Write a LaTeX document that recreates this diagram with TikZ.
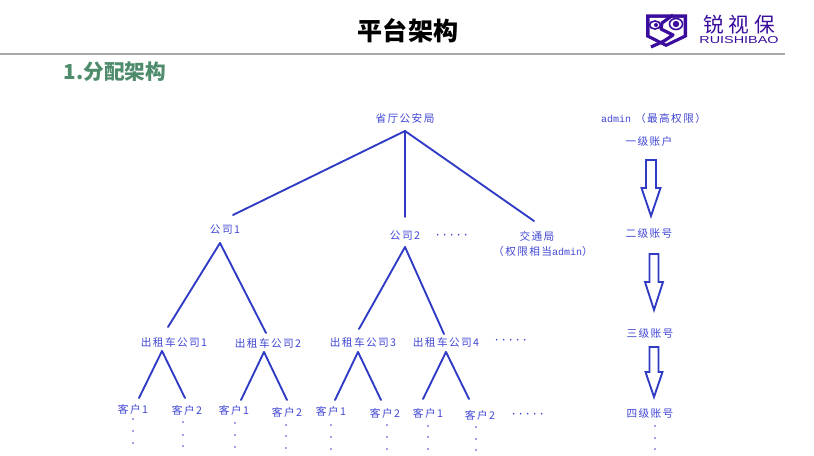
\documentclass[tikz,border=0pt]{standalone}
\usepackage{fontspec}
\setmainfont{Noto Sans CJK SC}
\newfontfamily\lbl[LetterSpace=13]{Noto Sans CJK SC}
\newfontfamily\lat{Liberation Mono}
\newfontfamily\dotfont[LetterSpace=37]{Liberation Sans}
\newfontfamily\logofont[LetterSpace=24]{Noto Sans CJK SC}
\newfontfamily\latinlogo{Liberation Sans}
\definecolor{inkblue}{HTML}{2F3BC4}
\definecolor{lblblue}{HTML}{4248D4}
\definecolor{logopurple}{HTML}{3A0D9C}
\definecolor{subgreen}{HTML}{4F8C6C}
\definecolor{rulegray}{HTML}{A8A8A8}
\tikzset{
  lab/.style={text=lblblue,inner sep=0pt,font=\lbl\fontsize{8pt}{9pt}\selectfont},
  dotlab/.style={text=lblblue,inner sep=0pt,font=\dotfont\bfseries\fontsize{7.5pt}{9pt}\selectfont},
  link/.style={draw=inkblue,line width=1.4pt,line cap=round},
  hollow/.style={draw=inkblue,line width=1.4pt,fill=white,line join=miter},
  pt/.style={fill=lblblue,circle,inner sep=0pt,minimum size=1.4pt},
}
% hollow arrow: x of centre, top y, shoulder y, tip y, half shaft, half head
\newcommand{\holarrow}[6]{\draw[hollow] (#1-#5,#2)--(#1+#5,#2)--(#1+#5,#3)--(#1+#6,#3)--(#1,#4)--(#1-#6,#3)--(#1-#5,#3)--cycle;}
\newcommand{\dotcol}[4]{\node[pt] at (#1,#2) {};\node[pt] at (#1,#3) {};\node[pt] at (#1,#4) {};}
\newcommand{\ltn}[1]{{\lat\fontsize{7.5pt}{9pt}\selectfont #1}}
\begin{document}
\begin{tikzpicture}[x=0.75pt,y=-0.75pt]
\useasboundingbox (0,0) rectangle (814,456);
\fill[white] (0,0) rectangle (814,456);
% header
\node[inner sep=0pt,font=\fontsize{18.8pt}{22pt}\selectfont\bfseries] (title) at (408,31) {平台架构};
\draw[rulegray,line width=1.2pt] (0,54) -- (785,54);
\node[inner sep=0pt,text=subgreen,font=\fontsize{15.5pt}{18pt}\selectfont\bfseries] (sub) at (115,72) {1.分配架构};
% logo
\fill[logopurple] (646,14.5)--(687,14.5)--(687,37)--(666,47)--(646,37)--cycle;
\fill[white] (649.5,18)--(683.5,18)--(683.5,35)--(666,43.5)--(649.5,35)--cycle;
\draw[logopurple,line width=2.4pt,line join=round] (673,15)--(662,23)--(661,29)--(673,35)--(664,41)--(651,47);
\fill[white,draw=logopurple,line width=1.2pt] (655,25) ellipse (5.5 and 4);
\fill[logopurple] (656,25) circle (2);
\fill[white,draw=logopurple,line width=1.2pt] (676,24) ellipse (6.5 and 5.5);
\fill[logopurple] (676,24) circle (3.2);
\node[inner sep=0pt,text=logopurple,font=\logofont\fontsize{15.5pt}{18pt}\selectfont] (logoa) at (739,25) {锐视保};
\node[inner sep=0pt,text=logopurple,xscale=1.42,font=\latinlogo\fontsize{7.6pt}{9pt}\selectfont] (logob) at (739,40.5) {RUISHIBAO};
% level 0
\node[lab] (root) at (405,118) {省厅公安局};
% level 1
\node[lab] (co1) at (225,230) {公司1};
\node[lab] (co2) at (405,236) {公司2};
\node[dotlab] (dots1) at (452,236) {·····};
\node[lab] (traffic) at (537,236) {交通局};
\node[lab] (trafficb) at (543,251) {（权限相当\ltn{admin}）};
% level 2
\node[lab] (t1) at (174,342) {出租车公司1};
\node[lab] (t2) at (268,343) {出租车公司2};
\node[lab] (t3) at (363,342) {出租车公司3};
\node[lab] (t4) at (446,342) {出租车公司4};
\node[dotlab] (dots2) at (511,341) {·····};
% level 3
\node[lab] (c1) at (133,409) {客户1};
\node[lab] (c2) at (187,410) {客户2};
\node[lab] (c3) at (234,410) {客户1};
\node[lab] (c4) at (287,412) {客户2};
\node[lab] (c5) at (331,411) {客户1};
\node[lab] (c6) at (385,413) {客户2};
\node[lab] (c7) at (428,413) {客户1};
\node[lab] (c8) at (480,415) {客户2};
\node[dotlab] (dots3) at (528,415) {·····};
% right column
\node[lab] (admin) at (653.5,118) {\ltn{admin}\hspace{3pt}（最高权限）};
\node[lab] (l1) at (649,141) {一级账户};
\node[lab] (l2) at (649,233) {二级账号};
\node[lab] (l3) at (650,333) {三级账号};
\node[lab] (l4) at (650,413) {四级账号};
% connectors
\draw[link] ([shift={(0,13)}]root.center) -- ([shift={(8,-15)}]co1.center);
\draw[link] ([shift={(0,13)}]root.center) -- ([shift={(0,-19)}]co2.center);
\draw[link] ([shift={(0,13)}]root.center) -- ([shift={(-3,-15)}]traffic.center);
\draw[link] ([shift={(-5,13)}]co1.center) -- ([shift={(-6,-15)}]t1.center);
\draw[link] ([shift={(-5,13)}]co1.center) -- ([shift={(-2,-10)}]t2.center);
\draw[link] ([shift={(0,11)}]co2.center) -- ([shift={(-4,-13)}]t3.center);
\draw[link] ([shift={(0,11)}]co2.center) -- ([shift={(-2,-8)}]t4.center);
\draw[link] ([shift={(-12,9)}]t1.center) -- ([shift={(6,-11)}]c1.center);
\draw[link] ([shift={(-12,9)}]t1.center) -- ([shift={(-2,-12)}]c2.center);
\draw[link] ([shift={(-4,9)}]t2.center) -- ([shift={(7,-10)}]c3.center);
\draw[link] ([shift={(-4,9)}]t2.center) -- ([shift={(0,-12)}]c4.center);
\draw[link] ([shift={(-5,10)}]t3.center) -- ([shift={(4,-11)}]c5.center);
\draw[link] ([shift={(-5,10)}]t3.center) -- ([shift={(-4,-13)}]c6.center);
\draw[link] ([shift={(0,10)}]t4.center) -- ([shift={(-5,-14)}]c7.center);
\draw[link] ([shift={(0,10)}]t4.center) -- ([shift={(-11,-16)}]c8.center);
% hollow arrows
\holarrow{651}{160}{188}{216}{5}{9.5}
\holarrow{654}{254}{282}{310}{4.5}{9}
\holarrow{654}{347}{372}{397}{4.5}{8.5}
% vertical dots
\dotcol{133}{419}{431}{443}
\dotcol{183}{422}{435}{446}
\dotcol{235}{423}{435}{447}
\dotcol{286}{425}{436}{448}
\dotcol{331}{425}{437}{449}
\dotcol{387}{425}{437}{449}
\dotcol{428}{426}{437}{449}
\dotcol{476}{427}{439}{450}
\dotcol{655}{426}{438}{449}
\end{tikzpicture}
\end{document}
